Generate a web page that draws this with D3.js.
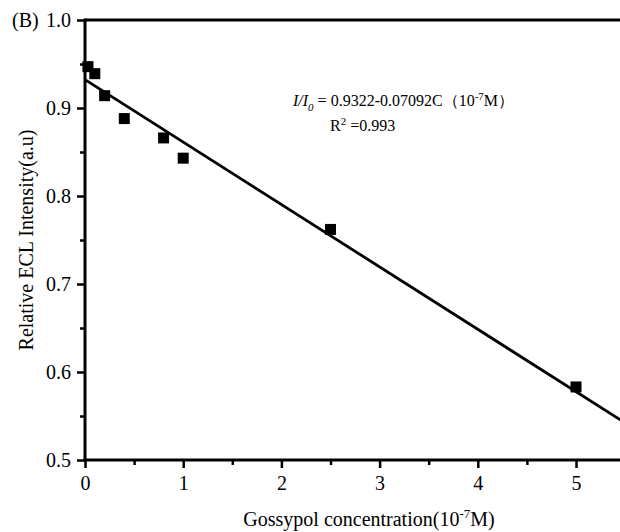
<!DOCTYPE html>
<html>
<head>
<meta charset="utf-8">
<script src="https://cdn.jsdelivr.net/npm/d3@7/dist/d3.min.js"></script>
<style>
  html, body { margin: 0; padding: 0; background: #fff; }
  svg { display: block; }
  svg text { font-family: "Liberation Serif", "DejaVu Serif", serif !important; fill: #000; }
</style>
</head>
<body>
<svg id="chart" width="620" height="532"></svg>
<script>
// ---- data ----
const concentrations = [0.03, 0.1, 0.2, 0.4, 0.8, 1.0, 2.5, 5.0];
const intensities    = [0.947, 0.939, 0.914, 0.888, 0.866, 0.843, 0.762, 0.583];
const fitIntercept = 0.9322;
const fitSlope = -0.07092;
const xTicks = [0, 1, 2, 3, 4, 5];
const yTicks = [0.5, 0.6, 0.7, 0.8, 0.9, 1.0];
const xMinorTicks = [0.5, 1.5, 2.5, 3.5, 4.5];
const yMinorTicks = [0.55, 0.65, 0.75, 0.85, 0.95];

(function () {
const FONT = "'Liberation Serif', 'DejaVu Serif', serif";
const svg = d3.select("#chart");
const padL = 85, padT = 20, padB = 460;
const x = d3.scaleLinear().domain([0, 5.5]).range([padL, padL + 5.5 * 98.2]);
const y = d3.scaleLinear().domain([0.5, 1.0]).range([padB, padT]);

// top frame line
svg.append("line")
  .attr("x1", padL).attr("x2", 640).attr("y1", y(1.0)).attr("y2", y(1.0))
  .attr("stroke", "#000").attr("stroke-width", 3);

// y axis
const yAxis = svg.append("g").attr("transform", `translate(${padL},0)`)
  .call(d3.axisLeft(y).tickValues(yTicks).tickFormat(d3.format(".1f")).tickSize(8).tickSizeOuter(0).tickPadding(6));
yAxis.attr("font-family", null);
yAxis.select(".domain").attr("stroke-width", 3).attr("d", `M0,${padT - 1.5}V${padB + 1.5}`);
yAxis.selectAll(".tick line").attr("stroke-width", 2.5);
yAxis.selectAll(".tick text").style("font-size", "20px").style("font-family", FONT);
svg.append("g").attr("transform", `translate(${padL},0)`)
  .call(d3.axisLeft(y).tickValues(yMinorTicks).tickFormat("").tickSize(5).tickSizeOuter(0))
  .call(g => { g.select(".domain").remove(); g.selectAll(".tick line").attr("stroke-width", 2.5); });

// x axis
const xAxis = svg.append("g").attr("transform", `translate(0,${padB})`)
  .call(d3.axisBottom(x).tickValues(xTicks).tickFormat(d3.format("d")).tickSize(8).tickSizeOuter(0).tickPadding(8));
xAxis.attr("font-family", null);
xAxis.select(".domain").attr("stroke-width", 3).attr("d", `M${padL - 1.5},0H640`);
xAxis.selectAll(".tick line").attr("stroke-width", 2.5);
xAxis.selectAll(".tick text").style("font-size", "20px").style("font-family", FONT);
svg.append("g").attr("transform", `translate(0,${padB})`)
  .call(d3.axisBottom(x).tickValues(xMinorTicks).tickFormat("").tickSize(5).tickSizeOuter(0))
  .call(g => { g.select(".domain").remove(); g.selectAll(".tick line").attr("stroke-width", 2.5); });

// fit line
const fitX = [0, 5.6];
svg.append("path")
  .datum(fitX)
  .attr("fill", "none").attr("stroke", "#000").attr("stroke-width", 2.8)
  .attr("d", d3.line().x(d => x(d)).y(d => y(fitIntercept + fitSlope * d)));

// points
const sz = 11;
svg.append("g").selectAll("rect")
  .data(concentrations.map((c, i) => [c, intensities[i]]))
  .join("rect")
  .attr("x", d => x(d[0]) - sz / 2).attr("y", d => y(d[1]) - sz / 2)
  .attr("width", sz).attr("height", sz).attr("fill", "#000");

// panel label
svg.append("text").attr("x", 12).attr("y", 27).style("font-size", "20px").style("font-family", FONT).text("(B)");

// y title
svg.append("text")
  .attr("transform", `translate(33,240) rotate(-90)`)
  .attr("text-anchor", "middle").style("font-size", "20px").style("font-family", FONT)
  .text("Relative ECL Intensity(a.u)");

// x title
const xt = svg.append("text").attr("x", 369).attr("y", 526).attr("text-anchor", "middle")
  .style("font-size", "20px").style("font-family", FONT);
xt.append("tspan").text("Gossypol concentration(10");
xt.append("tspan").attr("dy", -8).style("font-size", "13px").text("-7");
xt.append("tspan").attr("dy", 8).text("M)");

// equation
const eq = svg.append("text").attr("x", 293).attr("y", 106).style("font-size", "16px").style("font-family", FONT);
eq.append("tspan").style("font-style", "italic").text("I/I");
eq.append("tspan").style("font-style", "italic").attr("dy", 5).style("font-size", "11px").text("0");
eq.append("tspan").attr("dy", -5).text(" = 0.9322-0.07092C（10");
eq.append("tspan").attr("dy", -6).style("font-size", "11px").text("-7");
eq.append("tspan").attr("dy", 6).text("M）");

const r2 = svg.append("text").attr("x", 330).attr("y", 131).style("font-size", "16px").style("font-family", FONT);
r2.append("tspan").text("R");
r2.append("tspan").attr("dy", -6).style("font-size", "11px").text("2");
r2.append("tspan").attr("dy", 6).text(" =0.993");
})();
</script>
</body>
</html>
